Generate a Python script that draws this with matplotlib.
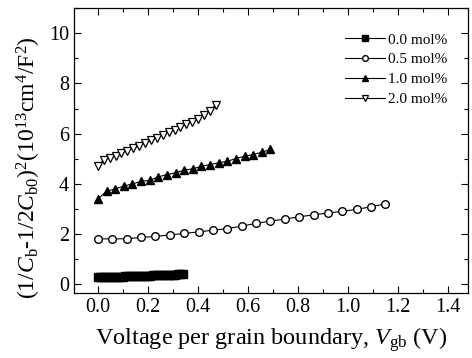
import numpy as np
import matplotlib
matplotlib.use('Agg')
import matplotlib.pyplot as plt
from matplotlib.ticker import MultipleLocator

plt.rcParams['font.family'] = ['Liberation Serif', 'DejaVu Serif']
plt.rcParams['mathtext.fontset'] = 'custom'
plt.rcParams['mathtext.rm'] = 'Liberation Serif'
plt.rcParams['mathtext.it'] = 'Liberation Serif:italic'

# 0.0 mol%
x_00 = [0.00, 0.01, 0.02, 0.03, 0.04, 0.05, 0.06, 0.07, 0.08, 0.09, 0.10, 0.11,
        0.12, 0.13, 0.14, 0.15, 0.16, 0.17, 0.18, 0.19, 0.20, 0.21, 0.22, 0.23,
        0.24, 0.25, 0.26, 0.27, 0.28, 0.29, 0.30, 0.31, 0.32, 0.33, 0.34]
y_00 = [0.28, 0.28, 0.29, 0.29, 0.29, 0.30, 0.30, 0.30, 0.31, 0.31, 0.31, 0.32,
        0.32, 0.32, 0.33, 0.33, 0.33, 0.34, 0.34, 0.34, 0.35, 0.35, 0.36, 0.36,
        0.36, 0.37, 0.37, 0.37, 0.38, 0.38, 0.39, 0.39, 0.40, 0.40, 0.41]

# 0.5 mol%
x_05 = [0, 0.058, 0.115, 0.173, 0.23, 0.288, 0.345, 0.403, 0.46, 0.518, 0.575,
        0.633, 0.69, 0.748, 0.805, 0.863, 0.92, 0.978, 1.035, 1.093, 1.15]
y_05 = [1.82, 1.81, 1.82, 1.87, 1.91, 1.97, 2.03, 2.09, 2.16, 2.22, 2.32,
        2.43, 2.52, 2.60, 2.69, 2.77, 2.84, 2.91, 2.99, 3.09, 3.21]

# 1.0 mol%
x_10 = [0, 0.035, 0.069, 0.104, 0.138, 0.173, 0.207, 0.242, 0.276, 0.311, 0.345,
        0.380, 0.414, 0.449, 0.483, 0.518, 0.552, 0.587, 0.621, 0.656, 0.69]
y_10 = [3.40, 3.71, 3.80, 3.91, 4.00, 4.10, 4.14, 4.28, 4.37, 4.44, 4.55,
        4.60, 4.70, 4.77, 4.84, 4.90, 5.01, 5.10, 5.17, 5.26, 5.37]

# 2.0 mol%
x_20 = [0, 0.024, 0.047, 0.071, 0.094, 0.118, 0.142, 0.165, 0.189, 0.212, 0.236,
        0.26, 0.283, 0.307, 0.33, 0.354, 0.378, 0.401, 0.425, 0.448, 0.472]
y_20 = [4.72, 4.96, 5.05, 5.13, 5.22, 5.32, 5.42, 5.52, 5.62, 5.73, 5.84,
        5.95, 6.05, 6.15, 6.26, 6.37, 6.48, 6.60, 6.75, 6.92, 7.15]

fig = plt.figure(figsize=(4.72, 3.58), dpi=100)
ax = fig.add_axes([0.1568, 0.1816, 0.9905 - 0.1568, 0.9777 - 0.1816])

ax.plot(x_00, y_00, '-s', color='k', lw=0.8, ms=5.5, mfc='k', mec='k', label='0.0 mol%')
ax.plot(x_05, y_05, '-o', color='k', lw=0.8, ms=5.5, mfc='white', mec='k', mew=1.0, label='0.5 mol%')
ax.plot(x_10, y_10, '-^', color='k', lw=0.8, ms=5.8, mfc='k', mec='k', label='1.0 mol%')
ax.plot(x_20, y_20, '-v', color='k', lw=0.8, ms=5.5, mfc='white', mec='k', mew=0.9, label='2.0 mol%')

ax.set_xlim(-0.095, 1.478)
ax.set_ylim(-0.34, 11.0)
ax.xaxis.set_major_locator(MultipleLocator(0.2))
ax.xaxis.set_minor_locator(MultipleLocator(0.1))
ax.yaxis.set_major_locator(MultipleLocator(2))
ax.yaxis.set_minor_locator(MultipleLocator(1))
ax.set_xticks([0.0, 0.2, 0.4, 0.6, 0.8, 1.0, 1.2, 1.4])
ax.set_xticklabels(['0.0', '0.2', '0.4', '0.6', '0.8', '1.0', '1.2', '1.4'])
ax.tick_params(which='both', direction='in', top=True, right=True, labelsize=14.5, width=0.8)
ax.tick_params(which='major', length=5)
ax.tick_params(which='minor', length=3)
for s in ax.spines.values():
    s.set_linewidth(0.9)

ax.set_xlabel(r'Voltage per grain boundary, $\mathit{V}_{\rm gb}$ (V)', fontsize=17.5, labelpad=6)
ax.set_ylabel(r'(1/$\mathit{C}_{\rm b}$-1/2$\mathit{C}_{\rm b0}$)$^2$(10$^{13}$cm$^4$/F$^2$)',
              fontsize=17)
ax.yaxis.set_label_coords(-0.078, 0.44)

leg = ax.legend(loc='upper right', bbox_to_anchor=(0.975, 0.95), frameon=False, fontsize=11,
                handlelength=2.6, handletextpad=0.2, labelspacing=0.4, borderaxespad=0.3,
                markerscale=0.75)

fig.savefig('out.png', dpi=100)
